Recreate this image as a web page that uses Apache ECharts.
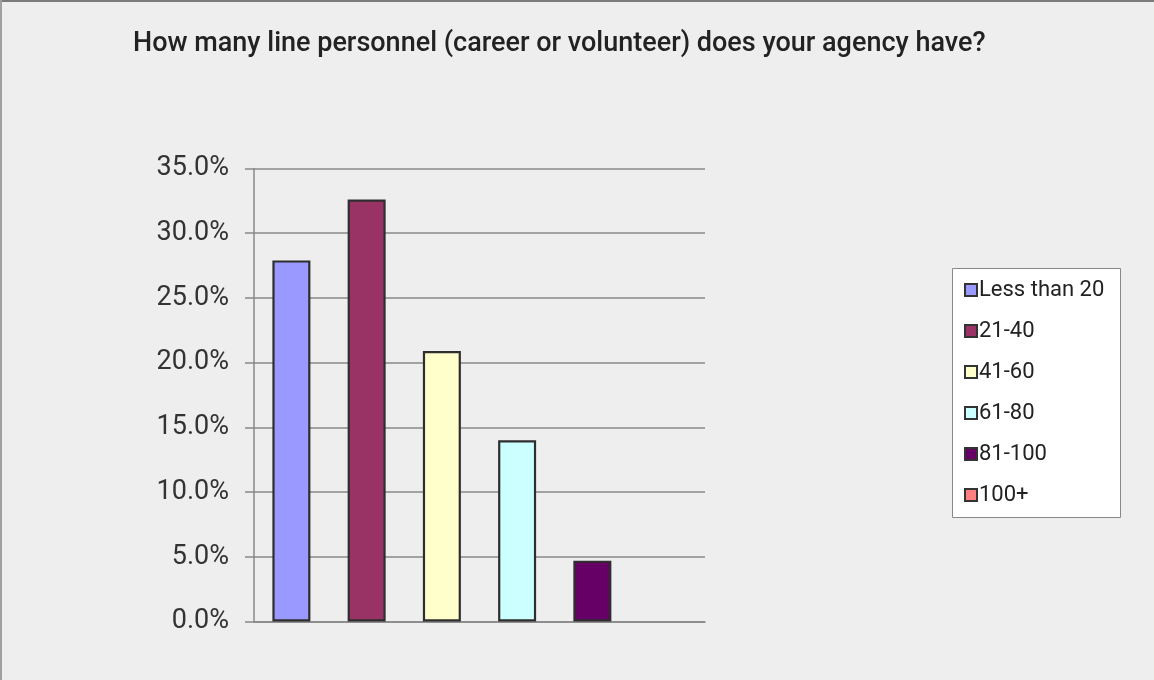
<!DOCTYPE html>
<html>
<head>
<meta charset="utf-8">
<script src="https://cdn.jsdelivr.net/npm/echarts@6/dist/echarts.min.js"></script>
<style>
  html, body { margin: 0; padding: 0; background: #eeeeee; }
  #chart { width: 1154px; height: 680px; }
</style>
</head>
<body>
<div id="chart"></div>
<script>
// Survey answers: share of agencies by number of line personnel
const titleText = 'How many line personnel (career or volunteer) does your agency have?';
const groups = ['Less than 20', '21-40', '41-60', '61-80', '81-100', '100+'];
const shares = [27.9, 32.6, 20.9, 14.0, 4.7, 0.0];
const groupColors = ['#9999FF', '#993366', '#FFFFCC', '#CCFFFF', '#660066', '#FF8080'];
const yTicks = { min: 0, max: 35, interval: 5 };

const chart = echarts.init(document.getElementById('chart'), null, { renderer: 'canvas' });

// One bar per answer group, all sharing the single category slot
const series = groups.map((name, i) => ({
  name: name,
  type: 'bar',
  data: [shares[i]],
  barWidth: 38,
  barGap: '98%',
  itemStyle: {
    color: groupColors[i],
    borderColor: '#2e2e2e',
    // an empty bar gets no outline, so nothing is drawn for it
    borderWidth: shares[i] > 0 ? 2.2 : 0
  },
  emphasis: { disabled: true }
}));

chart.setOption({
  backgroundColor: '#eeeeee',
  animation: false,
  textStyle: { fontFamily: 'Roboto' },
  title: {
    text: titleText,
    left: 128,
    top: 26,
    textStyle: { fontFamily: 'Roboto', fontWeight: 500, fontSize: 27, color: '#222222' }
  },
  graphic: [
    { type: 'line', shape: { x1: 0, y1: 1, x2: 1154, y2: 1 }, style: { stroke: '#7a7a7a', lineWidth: 2 }, silent: true },
    { type: 'line', shape: { x1: 1, y1: 0, x2: 1, y2: 680 }, style: { stroke: '#a0a0a0', lineWidth: 2 }, silent: true },
    { type: 'rect', shape: { x: 952.5, y: 268.5, width: 168, height: 249 }, style: { fill: '#ffffff', stroke: '#888888', lineWidth: 1 }, z: -1, silent: true }
  ],
  legend: {
    orient: 'vertical',
    left: 964,
    top: 279,
    padding: 0,
    itemWidth: 12,
    itemHeight: 12,
    itemGap: 19,
    icon: 'rect',
    itemStyle: { borderColor: '#333333', borderWidth: 2 },
    textStyle: { fontFamily: 'Roboto', fontSize: 22, lineHeight: 22, color: '#222222', padding: [0, 0, 0, -3] },
    data: groups
  },
  grid: { left: 254, right: 449, top: 168.5, bottom: 58.5 },
  xAxis: {
    type: 'category',
    data: [''],
    axisLine: { lineStyle: { color: '#888888', width: 1.5 } },
    axisTick: { show: false },
    axisLabel: { show: false }
  },
  yAxis: {
    type: 'value',
    min: yTicks.min,
    max: yTicks.max,
    interval: yTicks.interval,
    axisLine: { show: true, lineStyle: { color: '#888888', width: 1.5 } },
    axisTick: { show: true, length: 9, lineStyle: { color: '#888888', width: 1.5 } },
    axisLabel: {
      margin: 25,
      fontFamily: 'Roboto',
      fontSize: 27,
      color: '#333333',
      formatter: v => v.toFixed(1) + '%'
    },
    splitLine: { lineStyle: { color: '#888888', width: 1.5 } }
  },
  series: series
});
</script>
</body>
</html>
